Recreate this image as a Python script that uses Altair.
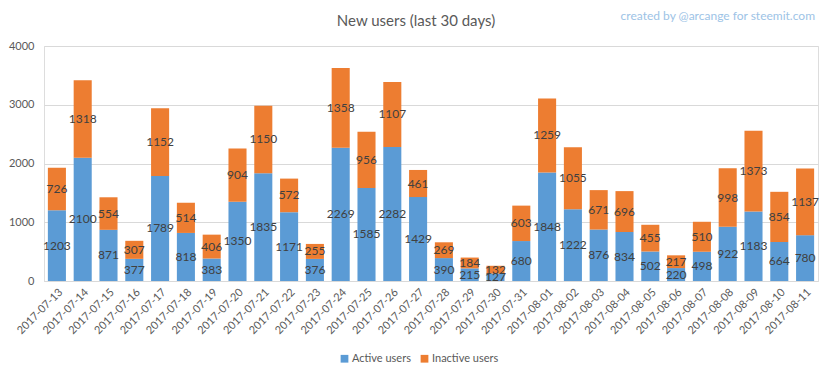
import altair as alt
import pandas as pd

dates = ["2017-07-13","2017-07-14","2017-07-15","2017-07-16","2017-07-17","2017-07-18",
         "2017-07-19","2017-07-20","2017-07-21","2017-07-22","2017-07-23","2017-07-24",
         "2017-07-25","2017-07-26","2017-07-27","2017-07-28","2017-07-29","2017-07-30",
         "2017-07-31","2017-08-01","2017-08-02","2017-08-03","2017-08-04","2017-08-05",
         "2017-08-06","2017-08-07","2017-08-08","2017-08-09","2017-08-10","2017-08-11"]
active = [1203,2100,871,377,1789,818,383,1350,1835,1171,376,2269,1585,2282,1429,390,
          215,127,680,1848,1222,876,834,502,220,498,922,1183,664,780]
inactive = [726,1318,554,307,1152,514,406,904,1150,572,255,1358,956,1107,461,269,
            184,132,603,1259,1055,671,696,455,217,510,998,1373,854,1137]
series = ["Active users", "Inactive users"]
colors = ["#5B9BD5", "#ED7D31"]
y_ticks = [0, 500, 1000, 1500, 2000, 2500, 3000, 3500, 4000]
title_text = "New users (last 30 days)"
watermark_text = "created by @arcange for steemit.com"

rows = []
for d, a, i in zip(dates, active, inactive):
    rows.append({"date": d, "series": series[0], "value": a, "order": 0})
    rows.append({"date": d, "series": series[1], "value": i, "order": 1})
df = pd.DataFrame(rows)

FONT = "Lato"

x_enc = alt.X("date:N", sort=dates, title=None,
              scale=alt.Scale(paddingInner=0.3),
              axis=alt.Axis(labelAngle=-45, labelFontSize=11, labelColor="#595959",
                            domainColor="#d9d9d9", ticks=False, labelPadding=5,
                            labelFont=FONT))

base = alt.Chart(df)

bars = base.mark_bar().encode(
    x=x_enc,
    y=alt.Y("value:Q", stack="zero", title=None,
            scale=alt.Scale(domain=[0, 4000], nice=False),
            axis=alt.Axis(values=y_ticks, format="d", grid=True, gridColor="#d9d9d9",
                          domain=False, ticks=False, labelPadding=10, labelFontSize=11,
                          labelColor="#595959", labelFont=FONT)),
    color=alt.Color("series:N", sort=series,
                    scale=alt.Scale(domain=series, range=colors),
                    legend=alt.Legend(title=None, orient="none", legendX=295, legendY=307,
                                      direction="horizontal", symbolType="square",
                                      symbolSize=60, labelFontSize=11, labelColor="#595959",
                                      labelFont=FONT, columnPadding=8, labelOffset=2)),
    order=alt.Order("order:Q"),
)

labels = base.transform_stack(
    stack="value", groupby=["date"], as_=["y0", "y1"],
    sort=[alt.SortField("order", order="ascending")]
).transform_calculate(
    mid="(datum.y0 + datum.y1) / 2"
).mark_text(fontSize=12, color="#404040", font=FONT).encode(
    x=alt.X("date:N", sort=dates),
    y=alt.Y("mid:Q"),
    text=alt.Text("value:Q"),
)

texts = pd.DataFrame({"t": [title_text, watermark_text]})

title = alt.Chart(texts).transform_filter(
    alt.datum.t == title_text
).mark_text(align="center", baseline="middle", fontSize=15, color="#595959", font=FONT
).encode(x=alt.value(372), y=alt.value(-25), text="t:N")

watermark = alt.Chart(texts).transform_filter(
    alt.datum.t == watermark_text
).mark_text(align="right", baseline="middle", fontSize=12, color="#9DC3E6", font=FONT
).encode(x=alt.value(771), y=alt.value(-30), text="t:N")

chart = alt.layer(bars, labels, title, watermark).properties(
    width=774, height=235,
    autosize=alt.AutoSizeParams(type="none"),
    padding={"left": 36, "top": 38, "right": 6, "bottom": 95},
).configure_view(stroke=None).configure(background="white")

chart.save("out.html", embed_options={"renderer": "svg", "actions": False})
